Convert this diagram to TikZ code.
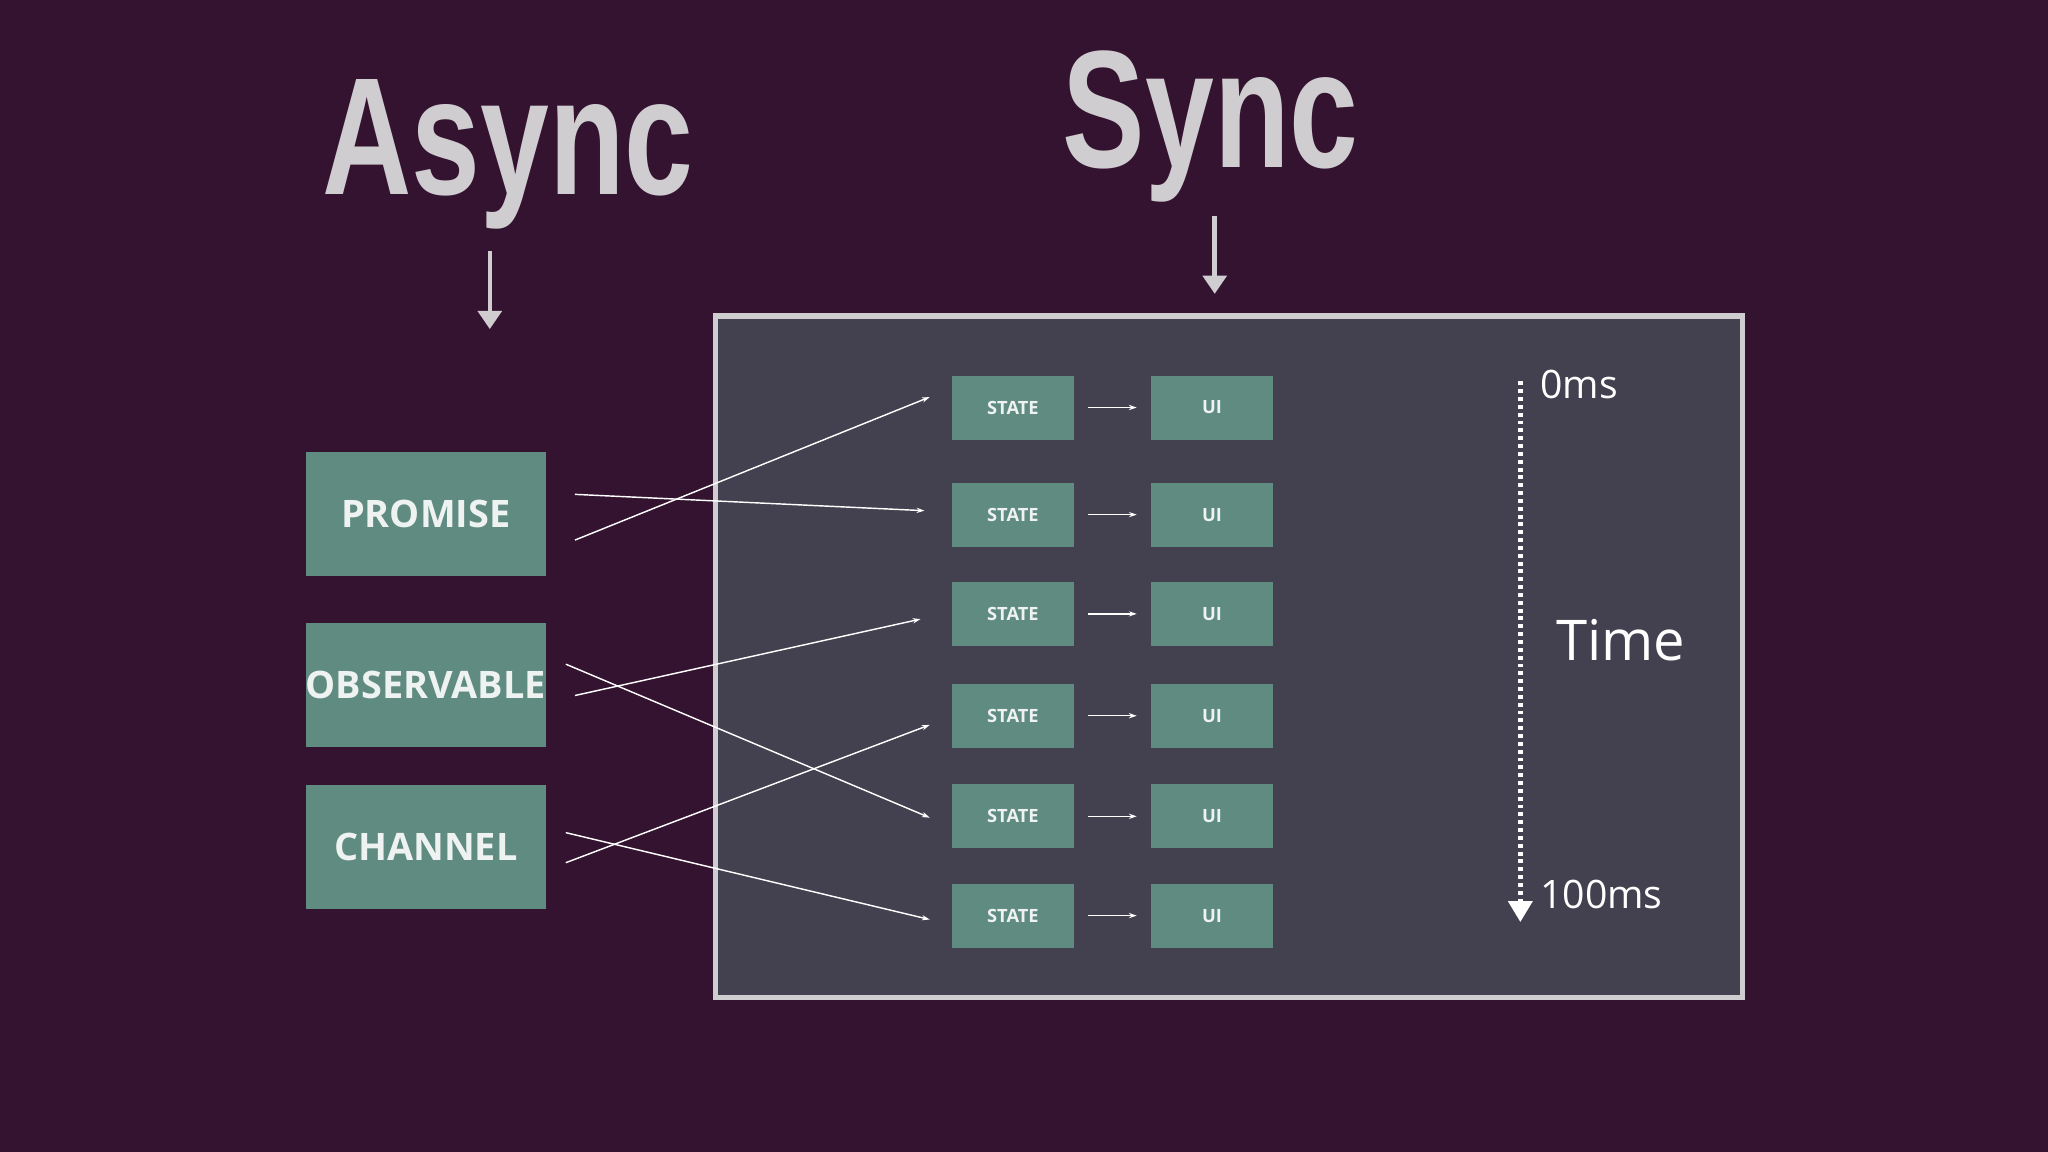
\documentclass[tikz,border=0pt]{standalone}
\usepackage{fontspec}
\setmainfont{Open Sans}
\newfontfamily\titlefont{Liberation Sans}
\usetikzlibrary{arrows.meta}
\definecolor{bg}{HTML}{341330}
\definecolor{panel}{HTML}{43404F}
\definecolor{frame}{HTML}{CFCDD0}
\definecolor{teal}{HTML}{5F8B81}
\definecolor{ttxt}{HTML}{EEF2F0}
\begin{document}
\begin{tikzpicture}[x=1pt,y=-1pt,
  big/.style={fill=teal,minimum width=184pt,minimum height=95pt,inner sep=0pt,text=ttxt,font=\bfseries\fontsize{29}{29}\selectfont},
  small/.style={fill=teal,minimum width=93pt,minimum height=49pt,inner sep=0pt,text=ttxt,font=\bfseries\fontsize{14}{14}\selectfont},
  link/.style={white,line width=1.1pt,-{Stealth[length=6pt,width=4pt]}},
  down/.style={frame,line width=3.5pt,-{Triangle[length=14pt,width=18pt]}},
  title/.style={text=frame,font=\titlefont\bfseries\fontsize{128}{128}\selectfont,xscale=0.74,inner sep=0pt}]
\fill[bg] (0,0) rectangle (1568,882);
\useasboundingbox (0,0) rectangle (1568,882);
\node[title] (async) at (389,118) {Async};
\node[title] (sync) at (927,97) {Sync};
\coordinate (a1) at (375,192); \coordinate (a2) at (375,252);
\coordinate (s1) at (930,165); \coordinate (s2) at (930,225);
\draw[down] (a1) -- (a2);
\draw[down] (s1) -- (s2);
\draw[fill=panel,draw=frame,line width=4pt] (548,242) rectangle (1334,764);
\node[big] (promise) at (326,393.5) {PROMISE};
\node[big] (observable) at (326,524.5) {OBSERVABLE};
\node[big] (channel) at (326,648.5) {CHANNEL};
\foreach \i/\y in {1/312,2/394,3/470,4/548,5/625,6/701}{
  \node[small] (st\i) at (775.5,\y) {STATE};
  \node[small] (ui\i) at (928,\y) {UI};
  \draw[link] ([xshift=11pt]st\i.east) -- ([xshift=-11pt]ui\i.west);
}
\draw[link] ([xshift=22pt,yshift=-20pt]promise.east) -- ([xshift=-17pt,yshift=8pt]st1.west);
\draw[link] ([xshift=22pt,yshift=15pt]promise.east) -- ([xshift=-21pt,yshift=3pt]st2.west);
\draw[link] ([xshift=22pt,yshift=-8pt]observable.east) -- ([xshift=-24pt,yshift=-4pt]st3.west);
\draw[link] ([xshift=15pt,yshift=16pt]observable.east) -- ([xshift=-17pt,yshift=-1pt]st5.west);
\draw[link] ([xshift=15pt,yshift=-12pt]channel.east) -- ([xshift=-17pt,yshift=-7pt]st4.west);
\draw[link] ([xshift=15pt,yshift=11pt]channel.east) -- ([xshift=-17pt,yshift=-3pt]st6.west);
\coordinate (t0) at (1164,292); \coordinate (t1) at (1164,706);
\draw[white,line width=3.5pt,dash pattern=on 3pt off 3pt] (t0) -- (1164,688);
\draw[white,line width=3.5pt,-{Triangle[length=16pt,width=18pt]}] (1164,688) -- (t1);
\node[white,anchor=west,font=\fontsize{30}{30}\selectfont,inner sep=0pt] (ms0) at (1179,294) {0ms};
\node[white,font=\fontsize{43}{43}\selectfont,inner sep=0pt] (time) at (1241,490) {Time};
\node[white,anchor=west,font=\fontsize{30}{30}\selectfont,inner sep=0pt] (ms100) at (1179,685) {100ms};
\end{tikzpicture}
\end{document}
